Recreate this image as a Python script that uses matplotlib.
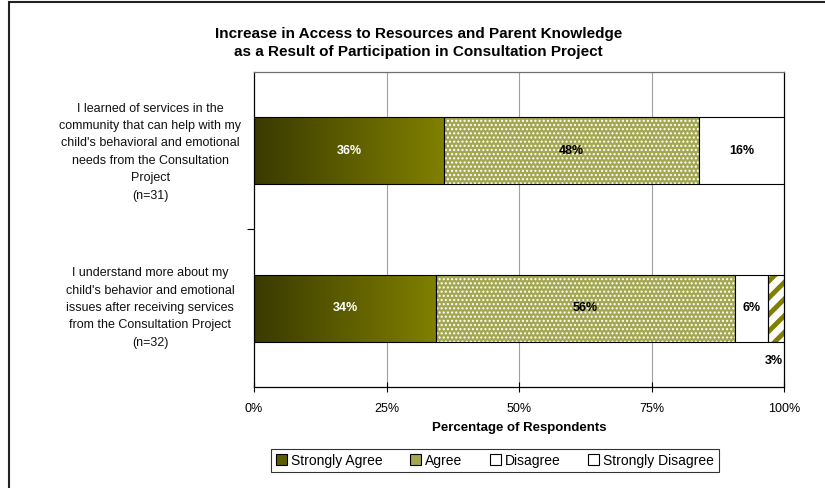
import numpy as np
import matplotlib
matplotlib.use("Agg")
import matplotlib.pyplot as plt
from matplotlib.patches import Rectangle, Patch
from matplotlib.colors import LinearSegmentedColormap

plt.rcParams['font.family'] = ['Liberation Sans', 'DejaVu Sans']

# survey items, top to bottom
items = [
    "I learned of services in the\ncommunity that can help with my\nchild's behavioral and emotional\nneeds from the Consultation\nProject\n(n=31)",
    "I understand more about my\nchild's behavior and emotional\nissues after receiving services\nfrom the Consultation Project\n(n=32)",
]
categories = ["Strongly Agree", "Agree", "Disagree", "Strongly Disagree"]

# percent of respondents per category
strongly_agree = [35.8, 34.4]
agree = [48.1, 56.3]
disagree = [16.1, 6.3]
strongly_disagree = [0.0, 3.1]

xticks = [0, 25, 50, 75, 100]
xtick_labels = ["0%", "25%", "50%", "75%", "100%"]

olive = "#808000"
agree_col = "#A3A752"

fig = plt.figure(figsize=(8.25, 4.88), dpi=100)
ax = fig.add_axes([0.3079, 0.2070, 0.6424, 0.6455])

ypos = np.arange(len(items))
h = 0.425

ax.set_xlim(0, 100)
ax.set_ylim(1.5, -0.5)

for x in [25, 50, 75]:
    ax.axvline(x, color="#A0A0A0", lw=0.8, zorder=0)

# strongly agree: dark-to-olive gradient clipped to each bar
grad = np.linspace(0, 1, 256).reshape(1, -1)
cmap = LinearSegmentedColormap.from_list("olive", ["#3A3A00", olive])
sa_bars = ax.barh(ypos, strongly_agree, height=h, color="none", edgecolor="black", lw=0.8, zorder=3)
for bar in sa_bars:
    x0, y0, w, hh = bar.get_x(), bar.get_y(), bar.get_width(), bar.get_height()
    im = ax.imshow(grad, cmap=cmap, aspect="auto", extent=[x0, x0 + w, y0 + hh, y0],
                   zorder=2, interpolation="bicubic")
    im.set_clip_path(bar)

left = np.array(strongly_agree)

# agree: olive with white dot pattern
ax.barh(ypos, agree, left=left, height=h, color=agree_col, edgecolor="white",
        hatch="....", lw=0, zorder=2)
ax.barh(ypos, agree, left=left, height=h, fill=False, edgecolor="black", lw=0.8, zorder=3)
left = left + np.array(agree)

ax.barh(ypos, disagree, left=left, height=h, color="white", edgecolor="black", lw=0.8, zorder=3)
left = left + np.array(disagree)

# strongly disagree: white with olive diagonal stripes
sd = ax.barh(ypos, strongly_disagree, left=left, height=h, color="white", edgecolor=olive,
             hatch="//", lw=0, zorder=2)
for b in sd:
    if hasattr(b, "set_hatch_linewidth"):
        b.set_hatch_linewidth(3.5)
ax.barh(ypos, strongly_disagree, left=left, height=h, fill=False,
        edgecolor="black", lw=0.8, zorder=3)

# value labels
lab_kw = dict(ha="center", va="center", fontsize=9, fontweight="bold", zorder=5)
start = np.zeros(len(items))
for vals, col in [(strongly_agree, "white"), (agree, "black"), (disagree, "black")]:
    for i, v in enumerate(vals):
        if v > 0:
            ax.text(start[i] + v / 2, ypos[i], f"{v:.0f}%", color=col, **lab_kw)
    start = start + np.array(vals)
for i, v in enumerate(strongly_disagree):
    if v > 0:
        ax.text(start[i] + v / 2 - 0.4, ypos[i] + h / 2 + 0.12, f"{v:.0f}%", color="black", **lab_kw)

# axes styling
for s in ["left", "bottom", "right"]:
    ax.spines[s].set_color("black")
    ax.spines[s].set_linewidth(0.9)
ax.spines["top"].set_color("#707070")
ax.spines["top"].set_linewidth(0.9)

ax.set_xticks(xticks)
ax.set_xticklabels(xtick_labels, fontsize=9)
ax.tick_params(axis="x", direction="inout", length=7, width=0.8, pad=8)
ax.set_yticks([0.5])
ax.set_yticklabels([""])
ax.tick_params(axis="y", direction="out", length=5, width=0.8)

for i, t in enumerate(items):
    fig.text(0.182, 1 - (152 + i * 156) / 488, t, ha="center", va="center",
             fontsize=9, linespacing=1.6, color="#111111")

ax.set_xlabel("Percentage of Respondents", fontsize=9.5, fontweight="bold", labelpad=5)

fig.text(0.507, 1 - 43 / 488,
         "Increase in Access to Resources and Parent Knowledge\nas a Result of Participation in Consultation Project",
         ha="center", va="center", fontsize=11, fontweight="bold", linespacing=1.3)

handles = [
    Patch(facecolor="#5C5C00", edgecolor="black", lw=0.8),
    Patch(facecolor=agree_col, edgecolor="black", lw=0.8),
    Patch(facecolor="white", edgecolor="black", lw=0.8),
    Patch(facecolor="white", edgecolor="black", lw=0.8),
]
leg = fig.legend(handles, categories, loc="center", bbox_to_anchor=(0.6, 1 - 460.5 / 488),
                 ncol=4, fontsize=10, frameon=True, fancybox=False, handlelength=0.8,
                 handleheight=0.8, handletextpad=0.3, columnspacing=1.95, borderpad=0.35)
leg.get_frame().set_edgecolor("black")
leg.get_frame().set_linewidth(0.8)

# outer chart border
fig.add_artist(Rectangle((9 / 825, -0.1), 1.2, 1 - 2 / 488 + 0.1, transform=fig.transFigure,
                         fill=False, edgecolor="#222222", lw=1.5))

fig.savefig("out.png", dpi=100)
